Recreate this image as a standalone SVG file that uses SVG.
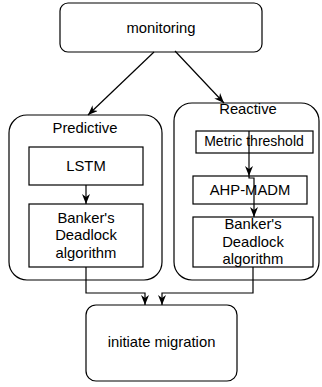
<svg xmlns="http://www.w3.org/2000/svg" width="322" height="387" viewBox="0 0 322 387">
<style>
.box{fill:#fff;stroke:#000;stroke-width:1.2}
.t{font-family:"Liberation Sans",Arial,sans-serif;font-size:14.8px;fill:#000;text-anchor:middle}
.c{fill:none;stroke:#000;stroke-width:1.2}
</style>
<defs>
<marker id="arr" viewBox="0 0 10 8" markerWidth="10" markerHeight="8" refX="10" refY="4" orient="auto" markerUnits="userSpaceOnUse">
<path d="M0,0 L10,4 L0,8 L3,4 z" fill="#000"/>
</marker>
</defs>
<rect width="322" height="387" fill="#fff"/>
<g id="monitoring">
<rect class="box" x="60" y="3" width="202" height="49" rx="8"/>
<text class="t" x="161" y="33">monitoring</text>
</g>
<g id="predictive">
<rect class="box" x="9" y="115" width="153" height="165" rx="18"/>
<text class="t" x="85" y="133">Predictive</text>
</g>
<g id="reactive">
<rect class="box" x="174" y="103" width="145" height="177" rx="18"/>
<text class="t" x="248" y="114">Reactive</text>
</g>
<g id="lstm">
<rect class="box" x="29" y="147" width="114" height="38"/>
<text class="t" x="86" y="171">LSTM</text>
</g>
<g id="bankers-left">
<rect class="box" x="29" y="204" width="114" height="63"/>
<text class="t" x="86" y="222.5">Banker's</text>
<text class="t" x="86" y="240">Deadlock</text>
<text class="t" x="86" y="257.5">algorithm</text>
</g>
<g id="metric">
<rect class="box" x="196" y="131" width="117" height="22"/>
<text class="t" x="254" y="146" style="font-size:14px">Metric threshold</text>
</g>
<g id="ahp">
<rect class="box" x="193" y="176" width="114" height="28"/>
<text class="t" x="250" y="195">AHP-MADM</text>
</g>
<g id="bankers-right">
<rect class="box" x="193" y="217" width="120" height="50"/>
<text class="t" x="253" y="229">Banker's</text>
<text class="t" x="253" y="247">Deadlock</text>
<text class="t" x="253" y="264">algorithm</text>
</g>
<g id="initiate">
<rect class="box" x="86" y="305" width="151" height="76" rx="10"/>
<text class="t" x="161.5" y="347">initiate migration</text>
</g>
<g id="connectors">
<path class="c" d="M154,52 L88,115" marker-end="url(#arr)"/>
<path class="c" d="M175,51 L224,103" marker-end="url(#arr)"/>
<path class="c" d="M86,185 V204" marker-end="url(#arr)"/>
<path class="c" d="M249,131 V176" marker-end="url(#arr)"/>
<path class="c" d="M249,176 V178 H254 V217" marker-end="url(#arr)"/>
<path class="c" d="M86,267 V293 H145 V305" marker-end="url(#arr)"/>
<path class="c" d="M253,267 V293 H162 V305" marker-end="url(#arr)"/>
</g>
</svg>
